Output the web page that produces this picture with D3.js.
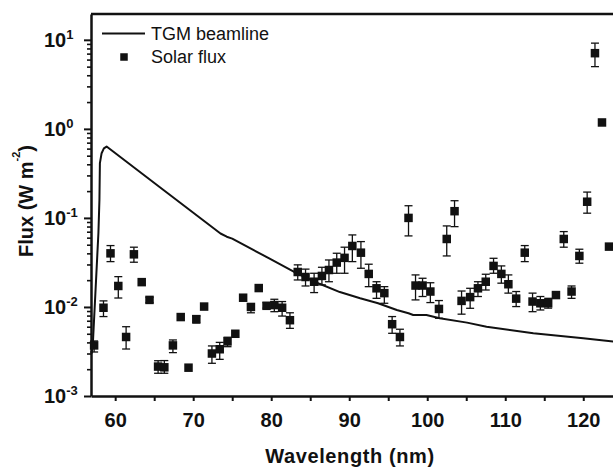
<!DOCTYPE html>
<html>
<head>
<meta charset="utf-8">
<script src="https://cdn.jsdelivr.net/npm/d3@7"></script>
<style>
  body { margin: 0; background: #fff; }
  svg { display: block; font-family: "Liberation Sans", Arial, sans-serif; }
</style>
</head>
<body>
<div id="flux_plot"></div>
<script>
// solar flux points (nm, W m-2) with error bar ends
const wavelength = [57.3, 58.5, 59.4, 60.4, 61.4, 62.4, 63.4, 64.4, 65.5, 66.3, 67.4, 68.4, 69.4, 70.4, 71.4, 72.4, 73.4, 74.4, 75.4, 76.4,
  77.4, 78.4, 79.4, 80.4, 81.4, 82.4, 83.4, 84.4, 85.5, 86.5, 87.4, 88.4, 89.4, 90.4, 91.5, 92.5, 93.5, 94.5, 95.5, 96.5,
  97.6, 98.5, 99.4, 100.4, 101.5, 102.5, 103.5, 104.4, 105.5, 106.5, 107.5, 108.5, 109.5, 110.4, 111.4, 112.5, 113.5, 114.5, 115.5, 116.5,
  117.5, 118.5, 119.5, 120.5, 121.5, 122.4, 123.3];
const solarFlux = [0.0037, 0.0098, 0.040, 0.0172, 0.0046, 0.039, 0.019, 0.012, 0.00214, 0.0021, 0.0037, 0.0077, 0.00208, 0.0073, 0.0101, 0.0030, 0.00335, 0.0041, 0.0050, 0.0127,
  0.0100, 0.0163, 0.0103, 0.0105, 0.0098, 0.0071, 0.0247, 0.0217, 0.0192, 0.0223, 0.026, 0.0315, 0.0356, 0.0484, 0.0407, 0.0235, 0.0162, 0.0143, 0.0064, 0.0046,
  0.100, 0.0174, 0.0174, 0.0149, 0.0095, 0.058, 0.119, 0.0117, 0.0129, 0.0162, 0.0192, 0.0289, 0.0235, 0.018, 0.0124, 0.0407, 0.0115, 0.011, 0.011, 0.0136,
  0.058, 0.0149, 0.0374, 0.152, 7.08, 1.18, 0.0476];
const fluxLow = [0.00312, 0.0078, 0.0323, 0.0126, 0.00337, 0.0318, 0.019, 0.0112, 0.0018, 0.0018, 0.00307, 0.0077, 0.00208, 0.0066, 0.0101, 0.00233, 0.00258, 0.00358, 0.0050, 0.0127,
  0.0086, 0.0163, 0.0097, 0.00885, 0.0079, 0.00575, 0.0201, 0.0172, 0.0145, 0.0177, 0.0192, 0.0239, 0.0239, 0.0323, 0.0272, 0.0169, 0.0125, 0.011, 0.00506, 0.00365,
  0.0628, 0.012, 0.0131, 0.0112, 0.00746, 0.0374, 0.0798, 0.0083, 0.00966, 0.0131, 0.0155, 0.0239, 0.0185, 0.0143, 0.0101, 0.0323, 0.00885, 0.00925, 0.0097, 0.0128,
  0.0469, 0.0125, 0.031, 0.113, 5.0, 1.18, 0.0476];
const fluxHigh = [0.00415, 0.0117, 0.0489, 0.0219, 0.0060, 0.0469, 0.019, 0.0128, 0.00249, 0.0025, 0.00426, 0.0077, 0.00208, 0.0079, 0.0101, 0.00365, 0.0040, 0.00457, 0.0050, 0.0127,
  0.0108, 0.0163, 0.0112, 0.0122, 0.0115, 0.0086, 0.0297, 0.0266, 0.0239, 0.0279, 0.0337, 0.0401, 0.0469, 0.0644, 0.0542, 0.0302, 0.0192, 0.0169, 0.0078, 0.00562,
  0.137, 0.0229, 0.021, 0.0187, 0.0118, 0.0813, 0.156, 0.0151, 0.0162, 0.0192, 0.0233, 0.0352, 0.0289, 0.0229, 0.0149, 0.0489, 0.0143, 0.0131, 0.0125, 0.0145,
  0.0702, 0.0172, 0.0445, 0.195, 9.18, 1.18, 0.0476];

// TGM beamline curve
const beamWl = [57.0, 57.14, 57.85, 57.98, 58.04, 58.26, 58.55, 58.9, 66.15, 73.5, 74.3, 75.0, 77.7, 79.8, 83.3, 86.2, 88.8, 91.4,
  93.7, 96.1, 97.6, 98.2, 99.9, 101.6, 105.1, 107.6, 113.6, 120.0, 124.0];
const beamFlux = [0.0030, 0.0039, 0.0678, 0.159, 0.412, 0.533, 0.604, 0.633, 0.207, 0.0668, 0.0615, 0.0585, 0.0437, 0.0349, 0.0239, 0.0182, 0.0147, 0.0125,
  0.0110, 0.00925, 0.0085, 0.00813, 0.00813, 0.00746, 0.00667, 0.0060, 0.00506, 0.00445, 0.00407];

// axes
const xTicks = [60, 65, 70, 75, 80, 85, 90, 95, 100, 105, 110, 115, 120];
const yExponents = [-3, -2, -1, 0, 1];

const width = 613, height = 467;
const plot = { left: 91, right: 613.3, top: 14, bottom: 396 };
const ink = "#111";

const svg = d3.select("#flux_plot")
  .append("svg")
  .attr("width", width)
  .attr("height", height);

const x = d3.scaleLinear().domain([56.9, 123.85]).range([plot.left, plot.right]);
const y = d3.scaleLog().domain([1e-3, 19.5]).range([plot.bottom, plot.top]);

// bottom axis
const xAxis = svg.append("g")
  .attr("transform", `translate(0,${plot.bottom})`)
  .call(d3.axisBottom(x).tickValues(xTicks).tickSize(5).tickSizeOuter(0).tickPadding(12)
    .tickFormat((d) => (d % 10 === 0 ? d : "")));
xAxis.select(".domain").attr("stroke", ink).attr("stroke-width", 2.5);
xAxis.selectAll(".tick line").attr("stroke", ink).attr("stroke-width", 2);
xAxis.selectAll(".tick text")
  .attr("fill", ink)
  .style("font-family", "'Liberation Sans', Arial, sans-serif")
  .style("font-size", "20px")
  .style("font-weight", "bold");

// left axis: minor + major ticks
const minorTicks = y.ticks().filter((d) => Math.abs(Math.log10(d) % 1) > 1e-6);
const yMinor = svg.append("g")
  .attr("transform", `translate(${plot.left},0)`)
  .call(d3.axisLeft(y).tickValues(minorTicks).tickSize(4).tickSizeOuter(0).tickFormat(""));
yMinor.select(".domain").remove();
yMinor.selectAll(".tick line").attr("stroke", ink).attr("stroke-width", 1.6);

const yMajor = svg.append("g")
  .attr("transform", `translate(${plot.left},0)`)
  .call(d3.axisLeft(y).tickValues(yExponents.map((e) => Math.pow(10, e))).tickSize(7).tickSizeOuter(0).tickFormat(""));
yMajor.select(".domain").attr("stroke", ink).attr("stroke-width", 2.5);
yMajor.selectAll(".tick line").attr("stroke", ink).attr("stroke-width", 2);

// y tick labels 10^n
const yLabels = svg.append("g")
  .selectAll("text")
  .data(yExponents)
  .join("text")
  .attr("x", 44)
  .attr("y", (d) => y(Math.pow(10, d)) + 7)
  .attr("fill", ink)
  .style("font-weight", "bold")
  .style("font-size", "20px");
yLabels.append("tspan").text("10");
yLabels.append("tspan")
  .attr("dy", -8)
  .style("font-size", "13px")
  .text((d) => d);

// top frame
svg.append("line")
  .attr("x1", plot.left)
  .attr("x2", plot.right)
  .attr("y1", plot.top)
  .attr("y2", plot.top)
  .attr("stroke", ink)
  .attr("stroke-width", 2.5);

// beamline curve
const beamData = beamWl.map((w, i) => ({ w: w, v: beamFlux[i] }));
svg.append("path")
  .datum(beamData)
  .attr("fill", "none")
  .attr("stroke", ink)
  .attr("stroke-width", 2)
  .attr("stroke-linejoin", "round")
  .attr("d", d3.line().x((d) => x(d.w)).y((d) => y(d.v)));

// solar flux points
const solar = wavelength.map((w, i) => ({ w: w, v: solarFlux[i], lo: fluxLow[i], hi: fluxHigh[i] }));
const withErr = solar.filter((d) => d.hi > d.lo);

const errG = svg.append("g").attr("stroke", ink).attr("stroke-width", 1.3);
errG.selectAll(".bar")
  .data(withErr)
  .join("line")
  .attr("class", "bar")
  .attr("x1", (d) => x(d.w))
  .attr("x2", (d) => x(d.w))
  .attr("y1", (d) => y(d.lo))
  .attr("y2", (d) => y(d.hi));
errG.selectAll(".capHi")
  .data(withErr)
  .join("line")
  .attr("class", "capHi")
  .attr("x1", (d) => x(d.w) - 4)
  .attr("x2", (d) => x(d.w) + 4)
  .attr("y1", (d) => y(d.hi))
  .attr("y2", (d) => y(d.hi));
errG.selectAll(".capLo")
  .data(withErr)
  .join("line")
  .attr("class", "capLo")
  .attr("x1", (d) => x(d.w) - 4)
  .attr("x2", (d) => x(d.w) + 4)
  .attr("y1", (d) => y(d.lo))
  .attr("y2", (d) => y(d.lo));

const sq = 8.5;
svg.append("g")
  .selectAll("rect")
  .data(solar)
  .join("rect")
  .attr("x", (d) => x(d.w) - sq / 2)
  .attr("y", (d) => y(d.v) - sq / 2)
  .attr("width", sq)
  .attr("height", sq)
  .attr("fill", ink);

// axis titles
svg.append("text")
  .attr("x", 350)
  .attr("y", 463)
  .attr("text-anchor", "middle")
  .attr("fill", ink)
  .style("font-size", "20px")
  .style("font-weight", "bold")
  .style("letter-spacing", "0.6px")
  .text("Wavelength (nm)");

const yTitle = svg.append("text")
  .attr("transform", "translate(33,201) rotate(-90)")
  .attr("text-anchor", "middle")
  .attr("fill", ink)
  .style("font-size", "20px")
  .style("font-weight", "bold");
yTitle.append("tspan").text("Flux (W m");
yTitle.append("tspan").attr("dy", -13).style("font-size", "11px").text("-2");
yTitle.append("tspan").attr("dy", 13).text(")");

// legend
svg.append("line")
  .attr("x1", 102)
  .attr("x2", 145)
  .attr("y1", 33.5)
  .attr("y2", 33.5)
  .attr("stroke", ink)
  .attr("stroke-width", 2);
svg.append("text")
  .attr("x", 151)
  .attr("y", 39.5)
  .attr("fill", ink)
  .style("font-size", "18px")
  .text("TGM beamline");
svg.append("rect")
  .attr("x", 124 - 3.75)
  .attr("y", 57 - 3.75)
  .attr("width", 7.5)
  .attr("height", 7.5)
  .attr("fill", ink);
svg.append("text")
  .attr("x", 151)
  .attr("y", 63)
  .attr("fill", ink)
  .style("font-size", "18px")
  .text("Solar flux");
</script>
</body>
</html>
